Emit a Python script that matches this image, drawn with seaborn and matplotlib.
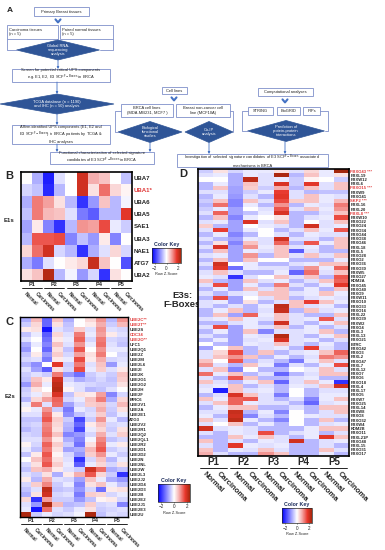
import numpy as np
import pandas as pd
import matplotlib
matplotlib.use('Agg')
import matplotlib.pyplot as plt
import seaborn as sns
from matplotlib.colors import LinearSegmentedColormap
from matplotlib.patches import Rectangle, Polygon
from matplotlib.transforms import blended_transform_factory

sns.set_theme(style='white')
plt.rcParams['font.family'] = ['Liberation Sans', 'DejaVu Sans']

# ---- data ----
patients = ['P1', 'P2', 'P3', 'P4', 'P5']
samples = ['Normal', 'Carcinoma'] * 5

e1_genes = ['UBA7', 'UBA1*', 'UBA6', 'UBA5', 'SAE1', 'UBA3', 'NAE1', 'ATG7', 'UBA2']
e1_red = ['UBA1*']
e1_z = [
    [0.0, -0.8, -2.2, -0.3, 0.0, 2.0, 0.8, 0.6, 0.0, -0.6],
    [-0.4, -0.6, -2.1, -0.7, 0.0, 2.0, 0.3, 1.3, 0.4, 0.1],
    [-0.8, 1.2, 0.9, 0.3, -0.7, -2.0, -1.0, 0.6, -0.7, -0.1],
    [-0.6, 1.2, 0.7, 0.6, -0.3, -1.3, -1.6, -0.7, -0.7, 1.8],
    [-0.9, 0.2, -1.2, -2.0, -0.7, 1.0, 0.9, 1.6, -0.2, -0.5],
    [-0.7, 1.5, 1.5, 1.6, -1.2, -0.6, -1.0, 0.2, -1.2, 0.0],
    [0.4, 1.3, 2.0, -0.4, -0.7, -2.0, -0.8, -0.3, 0.4, -0.4],
    [-0.8, -1.3, -0.3, 0.0, 0.2, 0.4, 2.1, 0.6, 0.0, -1.7],
    [0.3, 0.6, 2.3, -0.7, -0.1, -1.0, -0.4, -2.0, 0.3, 0.0],
]

e2_genes = ['UBE2C**', 'UBE2T**', 'UBE2S', 'CDC34', 'UBE2O**', 'UFC1', 'UBE2Q1', 'UBE2Z',
            'UBE2M', 'UBE2L6', 'UBE2I', 'UBE2K', 'UBE2G1', 'UBE2G2', 'UBE2H', 'UBE2F',
            'BIRC6', 'UBE2V1', 'UBE2A', 'UBE2E1', 'ATG3', 'UBE2V2', 'UBE2R1', 'UBE2Q2',
            'UBE2QL1', 'UBE2R2', 'UBE2D1', 'UBE2D2', 'UBE2N', 'UBE2NL', 'UBE2W', 'UBE2L3',
            'UBE2J2', 'UBE2D4', 'UBE2D3', 'UBE2B', 'UBE2E2', 'UBE2J1', 'UBE2E3', 'UBE2U']
e2_red = ['UBE2C**', 'UBE2T**', 'CDC34', 'UBE2O**']
e2_z = [
    [-0.8, 0.7, -1.5, 0.6, -0.8, 0.0, 0.4, 1.0, -0.7, 1.0],
    [-0.5, 0.4, -1.5, 0.3, -0.6, 0.0, 0.2, 0.8, -0.5, 0.7],
    [0.2, 0.3, -2.3, -0.3, -0.5, 0.5, -0.3, 1.0, -0.3, -0.4],
    [-0.6, -0.2, -1.6, 0.4, -0.3, 1.2, -0.2, 0.9, 0.2, -0.3],
    [-0.3, 0.0, -1.4, 0.2, -0.2, 1.4, -0.4, 1.2, -0.4, -0.5],
    [-0.8, -0.2, -1.2, 0.6, -0.3, 1.0, -0.2, 1.3, -0.3, -0.6],
    [-1.0, 0.0, -1.5, 0.3, -0.6, 1.5, 0.0, 1.0, -0.2, -0.2],
    [-0.6, 0.2, -1.0, 0.5, -0.4, 0.9, 0.3, 1.2, 0.0, -0.4],
    [-0.4, -0.3, -1.3, 0.2, -0.2, 1.6, 0.2, 0.8, -0.4, -0.3],
    [-0.7, -1.1, 0.0, 1.8, -0.5, 1.2, -0.3, 0.6, -1.0, -0.2],
    [-0.3, -0.9, -1.6, 0.3, -0.4, 1.6, -0.2, 0.5, -0.3, 0.2],
    [-0.5, -0.3, -0.5, 1.2, -1.0, -1.4, -0.5, -0.3, -0.5, 0.6],
    [-0.6, 0.6, 0.2, 2.0, -0.4, -0.8, -0.6, -0.4, -0.6, 0.5],
    [-1.0, 0.8, -0.2, 2.2, -0.2, -0.3, -0.4, -0.5, -0.5, 0.3],
    [-0.5, 0.3, 0.0, 2.3, 0.1, -0.3, -0.7, -0.6, -0.3, 0.0],
    [-0.4, -0.2, 0.4, 1.9, -0.6, 0.3, 0.2, 0.9, -1.2, -0.4],
    [-0.7, 0.4, 0.9, 1.4, -0.4, -0.2, 0.6, 1.2, -0.8, 0.4],
    [-0.2, 1.2, -0.3, 1.3, -0.9, -0.4, 0.5, 0.6, -0.4, 0.7],
    [0.1, -0.2, 1.0, -0.5, -1.3, -0.2, -0.4, 0.8, -0.5, 0.3],
    [-0.3, -0.3, 1.3, 0.2, -1.1, -0.6, -0.3, 0.5, -0.6, -0.2],
    [-0.6, -0.6, 1.5, 0.5, -0.5, -1.8, -0.5, 1.0, -0.2, -0.7],
    [-0.5, -0.4, 1.1, 0.4, -0.7, -1.5, 0.2, 0.6, -0.4, -0.3],
    [-0.7, -0.5, 1.2, 0.3, -0.8, -1.8, -0.2, 0.4, -0.5, 0.3],
    [-0.4, -0.5, 1.3, 0.6, -1.2, -1.0, -0.4, 0.8, -0.3, 0.5],
    [-0.3, -0.3, 1.0, 0.2, -0.8, -1.2, -0.1, 1.1, -0.6, -0.4],
    [0.1, -0.4, 1.4, 0.5, -0.5, -1.4, 0.3, 1.3, -0.2, 0.2],
    [-0.2, -0.6, 1.2, 0.3, -0.9, -0.8, 0.7, 1.5, -0.5, -0.3],
    [-0.6, 0.2, 1.5, 0.1, -0.4, -1.0, 0.5, 1.0, -0.2, -0.5],
    [0.0, 0.6, 1.3, 0.3, -0.3, -2.0, -0.4, 0.6, -0.7, -0.2],
    [-0.4, 0.3, 1.5, 0.5, -0.2, -1.6, -0.2, 0.4, -0.4, 0.3],
    [-0.6, 0.6, 0.8, 0.2, -0.3, -0.5, 2.0, 1.3, -0.8, -0.6],
    [-0.3, -0.5, 0.3, -0.8, 0.2, 0.8, 1.5, 0.4, -0.5, -2.0],
    [0.2, -0.7, 0.8, -0.3, -0.4, -0.9, 0.6, -0.2, -0.8, -1.0],
    [-0.4, 0.5, 1.1, -0.5, -0.2, -1.2, 0.3, 0.6, -0.2, -0.6],
    [-0.6, -0.3, 2.2, -0.6, -0.5, -1.0, -0.4, -1.4, 0.2, 0.3],
    [-0.8, 0.3, 2.0, -0.4, -0.3, -1.3, 0.5, 0.4, -0.4, -0.2],
    [0.4, -2.0, 0.9, -0.5, -0.5, -1.0, -0.6, 0.1, 0.2, -0.4],
    [-0.3, -1.0, 2.4, 0.7, -0.7, -0.6, 0.5, -0.4, -0.3, -1.2],
    [-0.2, -2.3, 1.3, -0.3, -0.5, -0.2, 0.3, -0.5, -0.4, -0.3],
    [2.4, -0.5, -0.2, -0.4, -0.3, -0.1, 2.4, -0.6, -0.3, -0.4],
]

e3_genes = ['FBXO43 ***', 'FBXL19', 'FBXW12', 'FBXL6', 'FBXO15 ***', 'FBXW9', 'FBXO41',
            'SKP2 ***', 'FBXL16', 'FBXL20', 'FBXL8 ***', 'FBXW10', 'FBXO22', 'FBXO24',
            'FBXO34', 'FBXO44', 'FBXO38', 'FBXO46', 'FBXL18', 'FBXL5', 'FBXO28', 'FBXO2',
            'FBXO36', 'FBXO30', 'FBXW5', 'FBXO27', 'KDM2A', 'FBXO45', 'FBXO40', 'FBXO9',
            'FBXW11', 'FBXO10', 'FBXO33', 'FBXO16', 'FBXL22', 'FBXO39', 'FBXW2', 'FBXO4',
            'FBXL3', 'FBXL13', 'FBXO21', 'BTRC', 'FBXO42', 'FBXO3', 'FBXL2', 'FBXO47',
            'FBXL7', 'FBXL12', 'FBXO7', 'FBXO6', 'FBXO18', 'FBXL4', 'FBXL17', 'FBXO5',
            'FBXW7', 'FBXO25', 'FBXL14', 'FBXW8', 'FBXO8', 'FBXO32', 'FBXW4', 'KDM2B',
            'FBXO11', 'FBXL21P', 'FBXO48', 'FBXL15', 'FBXO31', 'FBXO17']
e3_red = ['FBXO43 ***', 'FBXO15 ***', 'SKP2 ***', 'FBXL8 ***']
e3_z = [
    [-0.5, 0.3, -0.4, -0.2, -0.2, 0.3, -0.3, 0.4, -0.2, 2.5],
    [-0.3, -0.2, -0.8, -0.2, -0.3, 2.4, -0.7, 0.6, -0.2, 0.3],
    [0.0, 0.0, -0.8, 2.2, -0.3, -0.2, -0.5, 0.1, 0.0, -0.5],
    [-0.7, -0.2, -0.8, 0.6, -0.3, 1.9, -0.5, 1.8, -0.3, 0.6],
    [-0.7, 0.6, -0.9, 0.5, -0.5, 0.8, -0.7, 0.6, -0.3, 0.6],
    [-0.3, -0.3, -0.9, -0.5, -0.2, 1.7, -0.3, -0.7, -0.6, -0.6],
    [-0.7, -0.2, -1.0, -0.3, -0.7, 1.8, -0.3, 0.6, -0.2, -0.3],
    [-0.5, 0.6, -1.2, 0.6, -0.3, 1.6, 0.5, 0.6, -0.2, 0.7],
    [-0.7, 1.3, -1.2, -0.2, -0.7, 1.0, -0.7, -0.2, -0.3, 1.2],
    [-0.5, -0.2, -0.9, 0.0, -0.3, 1.5, -0.3, 0.6, -0.2, 1.0],
    [-0.3, 1.4, -0.9, -0.6, -0.2, 1.9, -0.7, -0.7, -0.3, 0.6],
    [-0.7, 0.6, -1.2, -0.2, 0.0, 0.3, -0.7, -0.3, -0.2, 1.6],
    [-0.3, -0.2, -0.9, 1.9, -0.3, 0.6, -0.7, 0.0, -0.3, 0.6],
    [0.5, -0.7, -0.9, 0.0, -0.2, -0.3, -0.7, 2.0, -0.3, -0.2],
    [-0.3, 1.7, -0.9, -0.2, 0.0, -0.7, -0.3, 0.6, -0.2, 1.5],
    [-0.7, -0.2, -1.2, -0.7, 0.0, -0.3, -0.7, -0.2, -0.3, -0.3],
    [-0.3, -0.7, -0.9, -0.2, -0.3, 2.0, -0.3, -0.3, -0.7, 0.6],
    [-0.7, 0.3, -1.2, 0.6, -0.3, 1.4, -0.7, 1.5, -0.2, 0.6],
    [-0.3, 1.9, -0.9, 1.0, -0.2, 0.6, -0.3, -0.2, -0.7, 0.6],
    [-0.7, 0.6, -0.9, -0.2, -0.3, 0.6, -1.6, -0.3, -0.7, -0.7],
    [-0.3, -0.2, -0.9, 1.0, -0.7, 0.6, -0.3, 0.6, -0.3, 0.6],
    [-0.7, 0.6, -0.9, 0.6, 0.0, 0.0, -0.7, -0.7, -0.7, -0.2],
    [-0.3, 2.0, 0.0, -0.2, -0.7, -0.7, -0.3, -0.2, 0.6, 0.6],
    [-0.7, 1.8, -1.4, -0.2, -0.3, -0.3, -0.7, 1.0, -0.2, 1.4],
    [-0.3, 0.6, -0.3, -0.7, -0.7, -0.2, -1.5, 1.3, -0.3, 0.6],
    [-0.2, -0.3, -2.0, -0.3, 0.0, 0.6, -0.3, 0.6, -0.7, 1.5],
    [0.6, -0.7, -0.9, 0.6, -0.3, -0.2, -0.7, -0.3, 0.6, 1.4],
    [-0.3, 1.6, -0.9, -0.2, -0.7, 1.2, -0.3, -0.7, -0.2, 1.8],
    [-0.7, -0.2, -0.9, 0.6, -0.3, 0.6, -0.7, -0.2, -0.7, 0.6],
    [-0.3, -0.7, -0.3, -0.2, 0.6, 0.6, -0.3, -0.2, 0.6, -0.2],
    [-0.7, 1.6, -0.9, 0.0, -0.3, 0.6, -0.7, -0.3, -0.2, -0.3],
    [-0.3, -0.2, -0.9, 0.3, -0.7, -0.3, 0.6, 1.7, 0.6, -0.2],
    [-0.3, -0.7, -0.3, -0.7, -0.2, 2.2, 0.6, -0.3, -0.2, -0.7],
    [-0.7, -0.2, 0.6, -0.7, -0.3, 2.1, -0.7, 0.6, -0.3, -0.2],
    [-0.7, 0.6, -0.9, 1.4, -0.2, 0.6, -0.3, -0.7, -0.7, 0.6],
    [-0.3, -0.2, 0.6, -0.2, -0.3, 0.6, -0.3, -0.2, 1.5, -0.3],
    [-0.7, -0.7, -0.3, -0.2, -0.7, 2.0, -0.3, -0.7, -0.2, 0.6],
    [-0.3, 1.6, -0.9, -0.2, -0.3, 0.6, -0.7, -0.2, -0.7, -0.3],
    [-0.7, -0.2, -0.9, 0.6, -1.2, -0.3, -0.3, -0.2, 0.6, -0.7],
    [-0.3, -0.7, -0.9, -0.2, -0.3, 2.3, -0.3, -0.7, -0.2, 0.6],
    [-0.7, -0.2, -0.9, -0.3, -0.2, 1.9, -0.3, -0.2, -0.7, -0.3],
    [0.0, -0.7, -0.9, -0.2, -0.3, 0.6, -0.3, -0.7, -0.2, -0.7],
    [-0.9, 0.0, 0.6, -0.7, -0.3, -0.2, -0.7, 1.7, -0.3, -0.7],
    [-0.3, 0.4, 1.6, -0.7, 0.6, -0.7, -0.3, -0.2, 0.6, 1.4],
    [-0.3, 0.6, 1.0, 0.6, -0.7, -0.2, -0.7, -0.3, 1.2, 1.0],
    [0.6, 0.0, 1.5, -0.7, -0.3, -0.7, -1.3, -0.2, 0.6, -0.3],
    [1.0, -0.3, -0.7, 0.6, -0.2, -1.3, -0.3, -0.7, -0.2, 1.6],
    [-0.3, 0.6, -1.2, 0.0, -0.7, -0.7, 0.0, -0.2, 0.6, -0.3],
    [1.3, -0.2, 0.6, -0.7, -0.3, -1.5, -0.7, -0.3, 0.6, 0.6],
    [-0.3, -0.7, 1.5, 0.6, -0.7, -0.7, -0.3, -0.2, -0.7, -0.7],
    [0.6, -0.3, -0.7, -0.2, 0.6, -1.5, -0.3, 0.6, -0.2, -2.0],
    [-0.3, -0.2, 0.6, -0.7, -0.3, -0.7, -0.2, -0.3, 0.6, 2.0],
    [-0.2, -2.2, 0.6, -0.3, -0.2, -0.7, 0.0, -0.7, -0.3, -0.3],
    [-0.7, -0.3, 1.9, 0.6, -0.3, -1.3, 0.0, -0.7, -0.2, -0.2],
    [0.6, -0.2, 1.4, 1.5, -0.3, -0.7, -0.3, -1.2, -0.2, 0.6],
    [-0.3, 0.6, 1.4, -0.2, -0.3, -0.3, -0.7, -1.5, -0.3, -0.2],
    [-0.7, -0.2, 0.6, 0.6, -0.7, -0.7, -0.3, -0.7, 0.6, 0.6],
    [-0.3, -0.3, 2.1, -0.7, -0.2, -1.2, 0.0, -0.7, -0.3, 0.6],
    [-0.2, -0.7, 2.0, -1.2, -0.3, -0.7, 0.0, -0.2, -0.3, -0.3],
    [0.6, -0.3, 2.2, -0.2, -0.7, -1.2, 0.0, -0.7, 0.6, -0.7],
    [-0.3, 0.0, 0.6, -0.7, -0.2, -0.7, 0.0, -0.7, -0.3, -0.2],
    [2.0, -0.3, -0.2, -0.3, -0.7, -0.7, -0.7, -0.2, 0.6, 0.6],
    [-0.3, -0.7, -0.2, -0.3, 1.6, -0.7, -0.3, -0.2, -0.7, -0.3],
    [-0.7, -0.7, 0.6, -0.2, 0.6, -0.3, -0.7, -0.2, 1.8, 0.6],
    [0.6, -0.7, -0.3, -0.7, -0.2, -0.3, 2.0, -0.7, -0.3, -0.2],
    [-0.3, -0.7, 1.8, -0.2, -0.3, -0.2, -0.7, -0.7, -0.3, -0.7],
    [0.6, -0.7, -0.2, -0.3, 0.6, -0.3, -0.7, -0.7, 0.6, -0.3],
    [0.8, -0.3, -0.7, -0.7, 1.0, 0.6, -0.7, -0.7, -0.2, -0.7],
]

# ---- figure in pixel units ----
W, H = 385, 550
fig = plt.figure(figsize=(W / 100, H / 100), dpi=100)
fig.patch.set_facecolor('white')


def px_axes(x0, y0, x1, y1):
    return fig.add_axes([x0 / W, 1 - y1 / H, (x1 - x0) / W, (y1 - y0) / H])


bg = px_axes(0, 0, W, H)
bg.set_xlim(0, W)
bg.set_ylim(H, 0)
bg.axis('off')

EDGE = '#7f8fca'
DIA = '#2f5597'
ARW = '#4472c4'


def box(x0, y0, x1, y1, text, fs=2.9, left=False):
    bg.add_patch(Rectangle((x0, y0), x1 - x0, y1 - y0, fc='white', ec=EDGE, lw=0.6))
    if left:
        bg.text(x0 + 2, (y0 + y1) / 2, text, ha='left', va='center', fontsize=fs,
                color='#222222', linespacing=1.15)
    else:
        bg.text((x0 + x1) / 2, (y0 + y1) / 2, text, ha='center', va='center', fontsize=fs,
                color='#222222', linespacing=1.15)


def diamond(cx, cy, w, h, text, fs=2.9):
    bg.add_patch(Polygon([(cx - w / 2, cy), (cx, cy - h / 2), (cx + w / 2, cy), (cx, cy + h / 2)],
                         closed=True, fc=DIA, ec=DIA, lw=0.5))
    bg.text(cx, cy, text, ha='center', va='center', fontsize=fs, color='white', linespacing=1.1)


def arrow(x, y0, y1):
    bg.annotate('', xy=(x, y1), xytext=(x, y0),
                arrowprops=dict(arrowstyle='-|>', color=ARW, lw=0.6, mutation_scale=3,
                                shrinkA=0, shrinkB=0))


def chevron(x, y):
    bg.plot([x - 2.5, x, x + 2.5], [y - 1.6, y + 1.4, y - 1.6], color=ARW, lw=1.5)


def frame(pts):
    xs, ys = zip(*pts)
    bg.plot(xs, ys, color=EDGE, lw=0.6)


SCF = r'SCF$^{\mathrm{F-Boxes}}$'

# panel A flowchart
bg.text(10, 11, 'A', fontsize=6, fontweight='bold', ha='center', va='center')
box(34, 7, 89, 16, 'Primary Breast tissues')
chevron(58, 21)
box(7, 25, 58, 39, 'Carcinoma tissues\n(n = 5)', left=True)
box(60, 25, 113, 39, 'Paired normal tissues\n(n = 5)', left=True)
frame([(7, 39), (7, 50), (17, 50)])
frame([(113, 39), (113, 50), (100, 50)])
diamond(58, 50, 83, 20, 'Global RNA-\nsequencing\nanalysis')
arrow(58, 60, 69)
box(12, 69, 110, 82, 'Screen for potential critical UPS components\ne.g. E1, E2, E3 ' + SCF + ' in BRCA')
arrow(57, 82, 94)
diamond(57, 104, 114, 20, 'TCGA database (n = 1190)\nand IHC (n = 50) analysis')
arrow(57, 114, 125)
box(12, 125, 110, 144, 'Affirm identified UPS components (E1, E2 and\nE3 ' + SCF +
    ') in BRCA patients by TCGA &\nIHC analyses')
arrow(57, 144, 152)
box(50, 152, 154, 164, 'Functional characterization of selected signature\ncandidates of E3 ' + SCF + ' in BRCA')

box(162, 87, 187, 94, 'Cell lines')
chevron(174, 99)
box(121, 104, 173, 117, 'BRCA cell lines\n(MDA-MB231, MCF7 )')
box(176, 104, 230, 117, 'Breast non-cancer cell\nline (MCF10A)')
frame([(121, 111), (115, 111), (115, 132), (118, 132)])
frame([(230, 111), (233, 111), (233, 132)])
diamond(150, 132, 64, 21, 'Biological\nfunctional\nstudies')
diamond(209, 132, 48, 21, 'Co-IP\nanalysis')
arrow(150, 143, 152)
arrow(209, 143, 154)
box(177, 154, 328, 167, 'Investigation of selected signature candidates of E3 ' + SCF +
    ' associated\nmechanisms in BRCA')

box(258, 88, 313, 96, 'Computational analyses')
chevron(285, 101)
box(248, 107, 273, 115, 'STRING')
box(277, 107, 300, 115, 'BioGRID')
box(303, 107, 320, 115, 'PIPs')
frame([(248, 111), (242, 111), (242, 131), (248, 131)])
frame([(320, 111), (328, 111), (328, 131), (325, 131)])
diamond(286, 131, 77, 21, 'Prediction of\nprotein-protein\ninteractions')
arrow(285, 142, 154)

# panel letters and group labels
bg.text(9, 176, 'B', fontsize=8, fontweight='bold', ha='center', va='center')
bg.text(10, 322, 'C', fontsize=8, fontweight='bold', ha='center', va='center')
bg.text(183, 174, 'D', fontsize=8, fontweight='bold', ha='center', va='center')
bg.text(9, 221, 'E1s', fontsize=4.3, fontweight='bold', ha='center', va='center')
bg.text(10, 397, 'E2s', fontsize=4.3, fontweight='bold', ha='center', va='center')
bg.text(182, 300, 'E3s:\nF-Boxes', fontsize=6.8, fontweight='bold', ha='center', va='center',
        linespacing=1.0)

cmap = LinearSegmentedColormap.from_list(
    'zs', [(0.0, '#0000ff'), (0.5, '#ffffff'), (0.65, '#f6b4b4'),
           (0.85, '#e8372c'), (1.0, '#a3260c')])


def draw_heat(ax_box, cbar_box, genes, z, red, ylab_fs, p_fs, lab_fs, p_y, line_y, pad,
              frame_lw):
    top, bottom = ax_box[1], ax_box[3]
    ax = px_axes(*ax_box)
    cax = px_axes(*cbar_box)
    df = pd.DataFrame(z, index=genes, columns=[f'{p} {s}' for p in patients for s in ['N', 'C']])
    sns.heatmap(df, ax=ax, cmap=cmap, vmin=-2.5, vmax=2.5, cbar_ax=cax,
                cbar_kws=dict(orientation='horizontal', ticks=[-2, 0, 2]),
                xticklabels=False, yticklabels=genes)
    ax.yaxis.tick_right()
    ax.set_yticklabels(genes, rotation=0, fontsize=ylab_fs, fontweight='bold')
    for t in ax.get_yticklabels():
        if t.get_text() in red:
            t.set_color('#e03a3a')
    ax.tick_params(axis='y', length=0, pad=1)
    ax.set_xlabel('')
    ax.set_ylabel('')
    for sp in ax.spines.values():
        sp.set_visible(True)
        sp.set_color('black')
        sp.set_linewidth(frame_lw)
    h = bottom - top
    tr = blended_transform_factory(ax.transData, ax.transAxes)
    for i, p in enumerate(patients):
        ax.text(2 * i + 1, (bottom - p_y) / h, p, transform=tr, ha='center', va='center',
                fontsize=p_fs, fontweight='bold')
        ax.plot([2 * i + 0.1, 2 * i + 1.9], [(bottom - line_y) / h] * 2, transform=tr,
                color='black', lw=0.6, clip_on=False)
    ax.set_xticks(np.arange(len(samples)) + 0.5)
    ax.set_xticklabels(samples, rotation=-45, ha='left', va='top', rotation_mode='anchor',
                       fontsize=lab_fs, fontweight='bold')
    ax.tick_params(axis='x', length=0, pad=pad)
    # colour key
    cbar = ax.collections[0].colorbar
    cbar.outline.set_linewidth(0.5)
    cax.set_title('Color Key', fontsize=3.8, pad=1.2, fontweight='bold', color='#1a2a5a')
    cax.tick_params(axis='x', labelsize=3.3, length=1, width=0.4, pad=0.8)
    cax.set_xlabel('Row Z-Score', fontsize=2.8, labelpad=0.8)
    return ax


draw_heat((21, 172, 132, 281), (152, 248, 181, 263), e1_genes, e1_z, e1_red,
          ylab_fs=4.4, p_fs=4.0, lab_fs=3.4, p_y=285, line_y=288, pad=7, frame_lw=1.2)
draw_heat((20, 317, 128, 517), (158, 484, 190, 502), e2_genes, e2_z, e2_red,
          ylab_fs=3.1, p_fs=4.0, lab_fs=3.4, p_y=521, line_y=524, pad=7, frame_lw=1.0)
draw_heat((198, 169, 349, 456), (282, 508, 312, 523), e3_genes, e3_z, e3_red,
          ylab_fs=3.0, p_fs=7, lab_fs=5.5, p_y=462, line_y=468, pad=10.5, frame_lw=1.2)

fig.savefig('out.png', dpi=100, facecolor='white')
